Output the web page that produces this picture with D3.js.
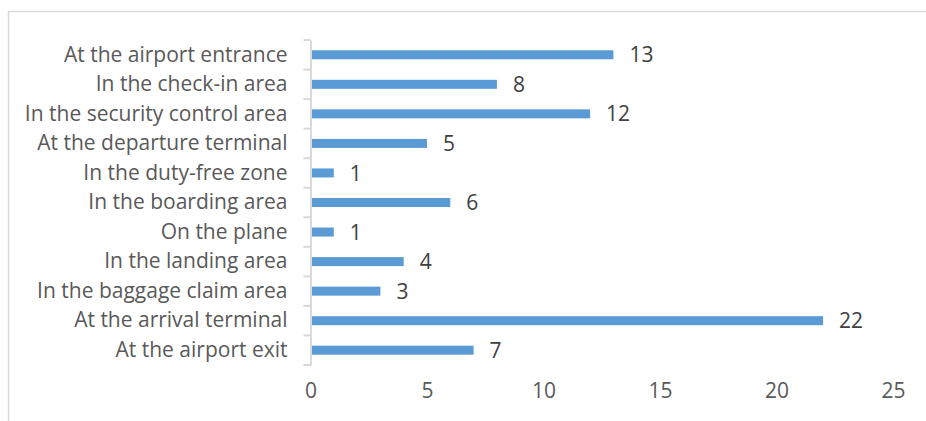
<!DOCTYPE html>
<html><head><meta charset="utf-8">
<script src="https://cdn.jsdelivr.net/npm/d3@7"></script>
<style>html,body{margin:0;padding:0;background:#fff;}svg{display:block;}</style>
</head><body>
<svg id="chart" width="926" height="421"></svg>
<script>
const categories = ["At the airport entrance","In the check-in area","In the security control area","At the departure terminal","In the duty-free zone","In the boarding area","On the plane","In the landing area","In the baggage claim area","At the arrival terminal","At the airport exit"];
const values = [13,8,12,5,1,6,1,4,3,22,7];
const xTicks = [0,5,10,15,20,25];

(function(){
const svg = d3.select("#chart");
const font = "'Open Sans', sans-serif";
const fs = 21;
const W = 926, H = 421;
const mLeft = 310.5, mRight = 893, mTop = 40, mBottom = 365;

svg.append("rect").attr("x",8.5).attr("y",11.5).attr("width",W).attr("height",H)
  .attr("fill","#fff").attr("stroke","#d9d9d9").attr("stroke-width",1.5);

const x = d3.scaleLinear().domain([0,25]).range([mLeft,mRight]);
const y = d3.scaleBand().domain(categories).range([mTop,mBottom]).paddingInner(0.695).paddingOuter(0.3475);

// bars
svg.append("g").selectAll("rect").data(values).join("rect")
  .attr("x", x(0)).attr("y",(d,i)=>y(categories[i]))
  .attr("width",d=>x(d)-x(0)).attr("height",y.bandwidth())
  .attr("fill","#5b9bd5");

// y axis
const yAxis = d3.axisLeft(d3.scaleBand().domain(categories).range([mTop,mBottom])).tickSize(0).tickPadding(23);
const gy = svg.append("g").attr("transform",`translate(${mLeft},0)`).call(yAxis);
gy.select(".domain").attr("stroke","#d9d9d9").attr("stroke-width",2);
gy.selectAll("text").attr("font-family",font).attr("font-size",fs).attr("fill","#595959");
// category boundary ticks
const bounds = d3.range(categories.length+1).map(i=>mTop + i*(mBottom-mTop)/categories.length);
svg.append("g").selectAll("line").data(bounds).join("line")
  .attr("x1",mLeft-7).attr("x2",mLeft).attr("y1",d=>d).attr("y2",d=>d)
  .attr("stroke","#d9d9d9").attr("stroke-width",2);

// x axis labels (no line)
const xAxis = d3.axisBottom(x).tickValues(xTicks).tickSize(0).tickPadding(0);
const gx = svg.append("g").attr("transform",`translate(0,383)`).call(xAxis);
gx.select(".domain").remove();
gx.selectAll("text").attr("font-family",font).attr("font-size",fs).attr("fill","#595959");

// value labels
svg.append("g").selectAll("text").data(values).join("text")
  .attr("x",d=>x(d)+16).attr("y",(d,i)=>y(categories[i])+y.bandwidth()/2)
  .attr("dy","0.36em")
  .attr("font-family",font).attr("font-size",fs).attr("fill","#404040")
  .text(d=>d);
})();
</script>
</body></html>
